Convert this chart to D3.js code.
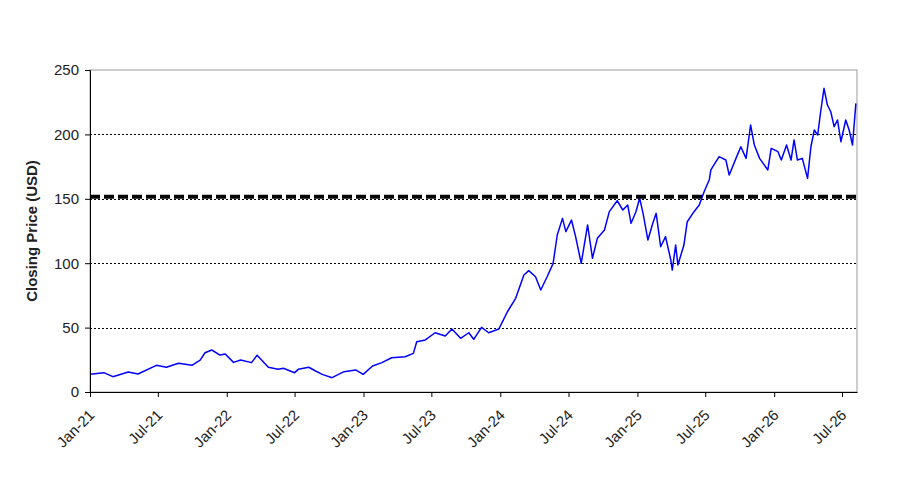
<!DOCTYPE html>
<html>
<head>
<meta charset="utf-8">
<script src="https://cdn.jsdelivr.net/npm/d3@7"></script>
<style>
  body { margin: 0; background: #fff; }
  svg { display: block; font-family: "Liberation Sans", Arial, sans-serif; }
</style>
</head>
<body>
<div id="chart"></div>
<script>
const dates = [
  "2021-01-01","2021-02-07","2021-03-03","2021-04-13","2021-05-09","2021-06-27","2021-07-24","2021-08-25",
  "2021-09-30","2021-10-22","2021-11-04","2021-11-22","2021-12-14","2021-12-28","2022-01-19","2022-02-07",
  "2022-03-08","2022-03-23","2022-04-22","2022-05-18","2022-06-01","2022-07-01","2022-07-11","2022-08-08",
  "2022-08-26","2022-09-13","2022-10-09","2022-11-10","2022-12-11","2022-12-31","2023-01-25","2023-02-19",
  "2023-03-17","2023-04-22","2023-05-14","2023-05-23","2023-06-15","2023-07-11","2023-08-07","2023-08-25",
  "2023-09-17","2023-10-09","2023-10-22","2023-11-12","2023-12-01","2023-12-28","2024-01-07","2024-01-20",
  "2024-02-11","2024-03-04","2024-03-17","2024-04-04","2024-04-18","2024-05-05","2024-05-21","2024-06-01",
  "2024-06-15","2024-06-24","2024-07-09","2024-07-20","2024-08-04","2024-08-21","2024-09-03","2024-09-16",
  "2024-10-05","2024-10-18","2024-11-08","2024-11-23","2024-12-06","2024-12-15","2024-12-28","2025-01-07",
  "2025-01-16","2025-01-29","2025-02-11","2025-02-20","2025-03-04","2025-03-17","2025-03-31","2025-04-04",
  "2025-04-13","2025-04-19","2025-05-05","2025-05-14","2025-06-01","2025-06-15","2025-06-28","2025-07-12",
  "2025-07-16","2025-08-07","2025-08-25","2025-09-03","2025-09-21","2025-10-04","2025-10-18","2025-10-30",
  "2025-11-09","2025-11-23","2025-12-15","2025-12-24","2026-01-11","2026-01-20","2026-02-03","2026-02-15",
  "2026-02-23","2026-03-04","2026-03-17","2026-03-31","2026-04-09","2026-04-18","2026-04-27","2026-05-05",
  "2026-05-14","2026-05-23","2026-06-01","2026-06-10","2026-06-19","2026-06-28","2026-07-11","2026-07-20",
  "2026-07-29","2026-08-07"
];
const closes = [
  13.7, 15.0, 11.9, 15.5, 14.0, 20.7, 19.2, 22.3,
  20.7, 24.8, 30.5, 32.6, 28.7, 29.5, 23.0, 24.8,
  22.8, 28.5, 19.2, 17.6, 18.4, 15.0, 17.6, 19.2,
  16.3, 13.7, 11.1, 15.8, 17.1, 13.7, 20.2, 22.8,
  26.6, 27.4, 30.0, 39.0, 40.4, 46.0, 43.5, 48.9,
  41.7, 46.0, 40.9, 50.2, 46.0, 48.9, 54.6, 62.3,
  72.7, 90.8, 94.2, 89.5, 79.2, 89.5, 99.9, 121.9,
  134.8, 124.5, 133.5, 120.6, 99.9, 129.7, 103.8, 119.3,
  125.8, 140.0, 148.5, 141.3, 145.2, 131.0, 140.0, 150.4,
  138.7, 118.0, 131.0, 138.7, 112.8, 120.6, 102.5, 94.7,
  114.1, 98.6, 114.1, 132.2, 140.0, 145.2, 155.5, 165.0,
  172.4, 182.7, 180.1, 168.5, 181.4, 190.4, 181.4, 207.3,
  191.8, 181.4, 172.4, 189.2, 186.6, 180.1, 191.8, 180.1,
  195.7, 180.1, 181.4, 165.9, 190.4, 203.4, 199.5, 217.6,
  235.8, 222.8, 217.6, 206.0, 211.2, 194.3, 211.2, 203.4,
  191.8, 224.1
];
const yTicks = [0, 50, 100, 150, 200, 250];
const gridValues = [50, 100, 150, 200];
const referenceLevel = 151.5;
const xStart = "2021-01-01";
const xEnd = "2026-08-10";
const yLabel = "Closing Price (USD)";

const width = 920, height = 482;
const margin = {top: 70, right: 63, bottom: 90, left: 90};
const parse = d3.timeParse("%Y-%m-%d");
const data = dates.map((d, i) => ({date: parse(d), value: closes[i]}));

const svg = d3.select("#chart").append("svg")
    .attr("width", width)
    .attr("height", height);

const x = d3.scaleTime()
    .domain([parse(xStart), parse(xEnd)])
    .range([margin.left, width - margin.right]);
const y = d3.scaleLinear()
    .domain([0, 250])
    .range([height - margin.bottom, margin.top]);

// frame on top and right
svg.append("rect")
    .attr("x", margin.left)
    .attr("y", margin.top)
    .attr("width", width - margin.right - margin.left)
    .attr("height", height - margin.bottom - margin.top)
    .attr("fill", "none")
    .attr("stroke", "#9a9a9a")
    .attr("stroke-width", 1);

// dotted gridlines
svg.append("g")
  .selectAll("line")
  .data(gridValues)
  .join("line")
    .attr("x1", margin.left)
    .attr("x2", width - margin.right)
    .attr("y1", d => Math.round(y(d)) + 0.5)
    .attr("y2", d => Math.round(y(d)) + 0.5)
    .attr("stroke", "#000")
    .attr("stroke-width", 1)
    .attr("stroke-dasharray", "2,2");

// price line
const line = d3.line()
    .x(d => x(d.date))
    .y(d => y(d.value));
svg.append("path")
    .datum(data)
    .attr("fill", "none")
    .attr("stroke", "#0000ff")
    .attr("stroke-width", 1.5)
    .attr("stroke-linejoin", "round")
    .attr("d", line);

// heavy dashed reference line
svg.append("line")
    .attr("x1", margin.left)
    .attr("x2", width - margin.right)
    .attr("y1", y(referenceLevel))
    .attr("y2", y(referenceLevel))
    .attr("stroke", "#000")
    .attr("stroke-width", 4)
    .attr("stroke-dasharray", "10,4");

// y axis
const yAxis = svg.append("g")
    .attr("transform", `translate(${margin.left},0)`)
    .call(d3.axisLeft(y).tickValues(yTicks).tickSize(5).tickPadding(6));
yAxis.select(".domain").attr("stroke", "#000");
yAxis.selectAll("text")
    .attr("font-size", 15)
    .attr("fill", "#222")
    .attr("font-family", "Liberation Sans, Arial, sans-serif");

// x axis, every six months
const xAxis = svg.append("g")
    .attr("transform", `translate(0,${height - margin.bottom})`)
    .call(d3.axisBottom(x)
        .ticks(d3.timeMonth.every(6))
        .tickFormat(d3.timeFormat("%b-%y"))
        .tickSize(5)
        .tickSizeOuter(0));
xAxis.select(".domain").attr("stroke", "#000");
xAxis.selectAll("text")
    .attr("font-size", 15)
    .attr("fill", "#222")
    .attr("font-family", "Liberation Sans, Arial, sans-serif")
    .attr("text-anchor", "end")
    .attr("dy", 0)
    .attr("y", 0)
    .attr("transform", "translate(5,24) rotate(-45)");

svg.append("text")
    .attr("transform", `translate(37,${(margin.top + height - margin.bottom) / 2}) rotate(-90)`)
    .attr("text-anchor", "middle")
    .attr("font-size", 15)
    .attr("font-weight", "bold")
    .attr("fill", "#222")
    .text(yLabel);
</script>
</body>
</html>
